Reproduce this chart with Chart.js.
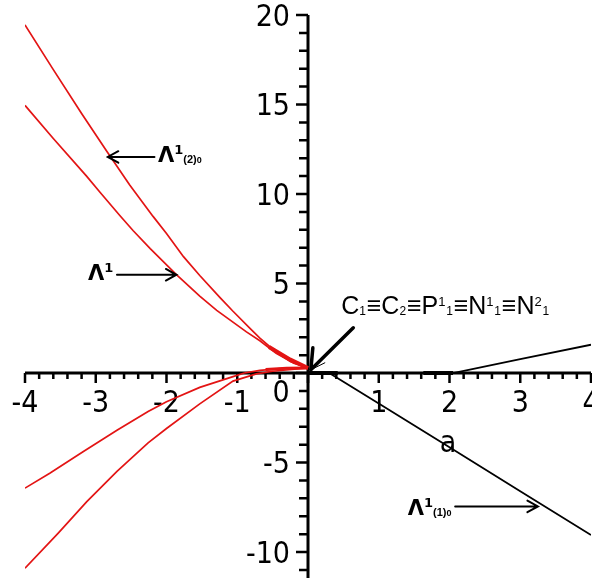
<!DOCTYPE html>
<html>
<head>
<meta charset="utf-8">
<script src="https://cdn.jsdelivr.net/npm/chart.js@4/dist/chart.umd.min.js"></script>
<style>
  html, body { margin: 0; padding: 0; background: #fff; }
  #wrap { width: 592px; height: 586px; }
</style>
</head>
<body>
<div id="wrap"><canvas id="plot" width="592" height="586"></canvas></div>
<script>
// axis ranges and tick labels
const xRange = [-4, 4];
const yRange = [-11.45, 20];
const xTickLabels = [-4, -3, -2, -1, 0, 1, 2, 3, 4];
const yTickLabels = [-10, -5, 5, 10, 15, 20];

// red branches, a < 0
const lam2X = [-4, -3.6, -3.2, -2.83, -2.52, -2.19, -2.0, -1.76, -1.53, -1.24, -1.06, -0.82, -0.68, -0.49, -0.25, 0];
const lam2Y = [19.45, 16.95, 14.5, 12.3, 10.5, 8.75, 7.8, 6.5, 5.45, 4.2, 3.45, 2.5, 1.95, 1.3, 0.65, 0.28];

const lamX = [-4, -3.6, -3.13, -2.94, -2.66, -2.47, -2.23, -1.86, -1.53, -1.29, -0.87, -0.68, -0.45, -0.2, 0];
const lamY = [14.95, 13.1, 11.0, 10.1, 8.8, 7.95, 6.95, 5.5, 4.3, 3.5, 2.3, 1.8, 1.1, 0.55, 0.28];

const lowAX = [-4, -3.65, -3.18, -2.7, -2.26, -2.0, -1.53, -1.06, -0.9, -0.68, -0.4, 0];
const lowAY = [-6.43, -5.6, -4.4, -3.2, -2.15, -1.6, -0.8, -0.2, 0, 0.15, 0.25, 0.28];

const lowBX = [-4, -3.53, -3.13, -2.7, -2.26, -2.0, -1.53, -1.06, -0.73, -0.5, 0];
const lowBY = [-10.9, -8.94, -7.2, -5.5, -3.9, -3.1, -1.72, -0.45, -0.05, 0.1, 0.28];

// where the red branches pile up next to the origin
const tipX = [-0.55, -0.25, 0];
const tipY = [1.45, 0.75, 0.28];
const baseX = [-0.6, -0.3, 0];
const baseY = [0.2, 0.26, 0.28];

// black branches, a > 0
const lam1X = [0.3, 1, 2, 3, 4];
const lam1Y = [0, -1.7, -4.15, -6.6, -9.05];
const riseX = [2.05, 3, 4];
const riseY = [0, 0.78, 1.58];
// pieces lying on the a-axis
const flat1X = [0, 0.42];
const flat2X = [1.63, 2.05];
const flatY = [0, 0];

const RED = "#e31414";

function pts(xs, ys) {
  return xs.map((x, i) => ({ x: x, y: ys[i] }));
}

function line(data, color, width) {
  return {
    data: data,
    showLine: true,
    borderColor: color,
    borderWidth: width,
    pointRadius: 0,
    tension: 0
  };
}

// arrows: [fromX, fromY, toX, toY]
const arrows = [
  [-2.17, 12.07, -2.83, 12.07],
  [-2.70, 5.49, -1.86, 5.49],
  [2.08, -7.45, 3.25, -7.45]
];

function drawArrow(ctx, x1, y1, x2, y2) {
  const a = Math.atan2(y2 - y1, x2 - x1);
  const h = 12, s = 0.5;
  ctx.beginPath();
  ctx.moveTo(x1, y1);
  ctx.lineTo(x2, y2);
  ctx.moveTo(x2 - h * Math.cos(a - s), y2 - h * Math.sin(a - s));
  ctx.lineTo(x2, y2);
  ctx.lineTo(x2 - h * Math.cos(a + s), y2 - h * Math.sin(a + s));
  ctx.stroke();
}

// Λ¹ with optional sub index, drawn piece by piece
function drawLambda(ctx, px, py, sub, tail) {
  ctx.textAlign = "left";
  ctx.textBaseline = "alphabetic";
  ctx.font = "bold 21px 'DejaVu Sans', sans-serif";
  ctx.fillText("Λ", px, py);
  let cx = px + ctx.measureText("Λ").width;
  ctx.font = "bold 13px 'DejaVu Sans', sans-serif";
  ctx.fillText("1", cx, py - 8);
  cx += ctx.measureText("1").width;
  if (sub) {
    ctx.font = "bold 11px 'Liberation Sans', Arial, sans-serif";
    ctx.fillText(sub, cx, py + 1);
    cx += ctx.measureText(sub).width;
    ctx.font = "bold 9px 'Liberation Sans', Arial, sans-serif";
    ctx.fillText(tail, cx, py + 1);
  }
}

// C1≡C2≡P¹1≡N¹1≡N²1 : [text, kind]
const pointName = [
  ["C", "m"], ["1", "sub"], ["≡", "m"], ["C", "m"], ["2", "sub"], ["≡", "m"],
  ["P", "m"], ["1", "sup"], ["1", "sub"], ["≡", "m"],
  ["N", "m"], ["1", "sup"], ["1", "sub"], ["≡", "m"],
  ["N", "m"], ["2", "sup"], ["1", "sub"]
];

function drawPointName(ctx, px, py) {
  ctx.textAlign = "left";
  ctx.textBaseline = "alphabetic";
  let cx = px;
  pointName.forEach(([t, k]) => {
    if (k === "m") {
      ctx.font = "25px 'Liberation Sans', Arial, sans-serif";
      ctx.fillText(t, cx, py);
    } else if (k === "sup") {
      ctx.font = "13px 'Liberation Sans', Arial, sans-serif";
      ctx.fillText(t, cx, py - 8);
    } else {
      ctx.font = "12px 'Liberation Sans', Arial, sans-serif";
      ctx.fillText(t, cx, py + 1);
    }
    cx += ctx.measureText(t).width + (k === "m" ? 0 : 0.8);
  });
}

const crossAxes = {
  id: "crossAxes",
  beforeDatasetsDraw(chart) {
    const { ctx, scales: { x, y } } = chart;
    const x0 = x.getPixelForValue(0);
    const y0 = y.getPixelForValue(0);
    ctx.save();
    ctx.strokeStyle = "#000";
    ctx.fillStyle = "#000";
    ctx.lineWidth = 3;
    ctx.beginPath();
    ctx.moveTo(x.left, y0);
    ctx.lineTo(x.right, y0);
    ctx.moveTo(x0, y.top);
    ctx.lineTo(x0, y.bottom);
    ctx.stroke();

    ctx.lineWidth = 2.5;
    ctx.beginPath();
    for (let i = -20; i <= 20; i++) {
      const px = x.getPixelForValue(i / 5);
      const len = i % 5 === 0 ? 10 : 6;
      ctx.moveTo(px, y0);
      ctx.lineTo(px, y0 + len);
    }
    for (let v = Math.ceil(yRange[0]); v <= yRange[1]; v++) {
      const py = y.getPixelForValue(v);
      const len = v % 5 === 0 ? 12 : 9;
      ctx.moveTo(x0 - len, py);
      ctx.lineTo(x0, py);
    }
    ctx.stroke();

    ctx.font = "30px 'DejaVu Sans Condensed', 'DejaVu Sans', sans-serif";
    ctx.textAlign = "center";
    ctx.textBaseline = "top";
    xTickLabels.forEach(v => {
      const px = x.getPixelForValue(v);
      if (v === 0) ctx.fillText("0", px - 27, y0 + 6);
      else ctx.fillText(String(v), px, y0 + 16);
    });
    ctx.textAlign = "right";
    ctx.textBaseline = "middle";
    yTickLabels.forEach(v => {
      ctx.fillText(String(v), x0 - 18, y.getPixelForValue(v) + 3);
    });

    // axis name
    ctx.textAlign = "center";
    ctx.textBaseline = "middle";
    ctx.fillText("a", x.getPixelForValue(1.98), y.getPixelForValue(-3.95));
    ctx.restore();
  },
  afterDraw(chart) {
    const { ctx, scales: { x, y } } = chart;
    const X = v => x.getPixelForValue(v);
    const Y = v => y.getPixelForValue(v);
    ctx.save();
    ctx.strokeStyle = "#000";
    ctx.fillStyle = "#000";
    ctx.lineWidth = 2;
    ctx.lineCap = "round";
    arrows.forEach(a => drawArrow(ctx, X(a[0]), Y(a[1]), X(a[2]), Y(a[3])));

    // thick pointer to the origin
    const tx = X(0.04), ty = Y(0.18);
    ctx.lineWidth = 3.5;
    ctx.beginPath();
    ctx.moveTo(X(0.64), Y(2.53));
    ctx.lineTo(tx, ty);
    ctx.moveTo(tx, ty);
    ctx.lineTo(tx + 2, ty - 22);
    ctx.stroke();
    ctx.lineWidth = 1;
    ctx.beginPath();
    ctx.moveTo(tx, ty);
    ctx.lineTo(tx + 14, ty - 7);
    ctx.stroke();

    drawLambda(ctx, X(-2.12), Y(11.8), "(2)", "0");
    drawLambda(ctx, X(-3.11), Y(5.21), "", "");
    drawLambda(ctx, X(1.41), Y(-7.92), "(1)", "0");
    drawPointName(ctx, X(0.47), Y(3.31));
    ctx.restore();
  }
};

new Chart(document.getElementById("plot"), {
  type: "scatter",
  data: {
    datasets: [
      line(pts(lam2X, lam2Y), RED, 1.7),
      line(pts(lamX, lamY), RED, 1.7),
      line(pts(lowAX, lowAY), RED, 1.7),
      line(pts(lowBX, lowBY), RED, 1.7),
      line(pts(tipX, tipY), RED, 4),
      line(pts(baseX, baseY), RED, 3),
      line(pts(lam1X, lam1Y), "#000", 1.8),
      line(pts(riseX, riseY), "#000", 1.8),
      line(pts(flat1X, flatY), "#000", 4),
      line(pts(flat2X, flatY), "#000", 4)
    ]
  },
  options: {
    responsive: false,
    animation: false,
    devicePixelRatio: 1,
    layout: { padding: { left: 25, right: 1, top: 15, bottom: 8 } },
    scales: {
      x: { type: "linear", min: xRange[0], max: xRange[1], display: false },
      y: { type: "linear", min: yRange[0], max: yRange[1], display: false }
    },
    plugins: { legend: { display: false }, tooltip: { enabled: false } }
  },
  plugins: [crossAxes]
});
</script>
</body>
</html>
